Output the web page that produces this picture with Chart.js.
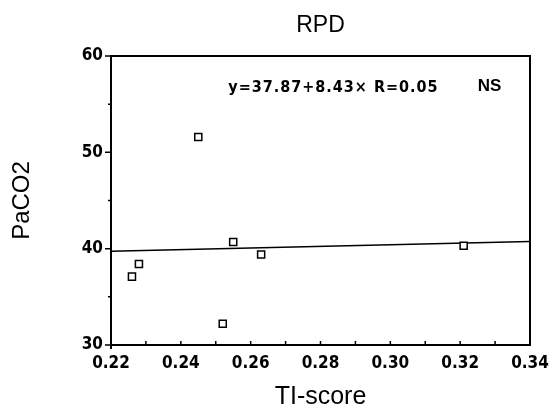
<!DOCTYPE html>
<html>
<head>
<meta charset="utf-8">
<script src="https://cdn.jsdelivr.net/npm/chart.js@4/dist/chart.umd.min.js"></script>
<style>
  html, body { margin: 0; padding: 0; background: #fff; }
  #wrap { width: 557px; height: 412px; }
</style>
</head>
<body>
<div id="wrap"><canvas id="scatter"></canvas></div>
<script>
// RPD group: TI-score vs PaCO2
const tiScore = [0.226, 0.228, 0.245, 0.252, 0.255, 0.263, 0.321];
const paco2   = [37.1, 38.4, 51.6, 32.2, 40.7, 39.4, 40.3];

// regression reported on the plot
const fitIntercept = 37.87;
const fitSlope = 8.43;
const fitR = 0.05;
const fitSignificance = 'NS';

const xRange = [0.22, 0.34];
const yRange = [30, 60];

const fitLine = xRange.map(x => ({ x, y: fitIntercept + fitSlope * x }));
const eqText = `y=${fitIntercept.toFixed(2)}+${fitSlope.toFixed(2)}\u00d7 R=${fitR.toFixed(2)}`;

const tickFont = { family: "'DejaVu Sans Condensed', 'DejaVu Sans'", size: 17, weight: 'bold' };
const titleFamily = "'Liberation Sans', Arial, sans-serif";

// box around the plot, inward x ticks, outward y ticks, and the fit annotation
const framePlugin = {
  id: 'frame',
  afterDraw(chart) {
    const { ctx, chartArea: a, scales } = chart;
    ctx.save();
    ctx.strokeStyle = '#000';
    ctx.lineWidth = 2;
    ctx.beginPath();
    ctx.moveTo(a.left, a.top);
    ctx.lineTo(a.right, a.top);
    ctx.lineTo(a.right, a.bottom + 1);
    ctx.moveTo(a.left, a.top - 1);
    ctx.lineTo(a.left, a.bottom + 4);
    ctx.moveTo(a.left - 1, a.bottom);
    ctx.lineTo(a.right + 1, a.bottom);
    ctx.stroke();

    ctx.lineWidth = 1.5;
    ctx.beginPath();
    scales.x.ticks.forEach(t => {
      const px = scales.x.getPixelForValue(t.value);
      ctx.moveTo(px, a.bottom);
      ctx.lineTo(px, a.bottom - 4);
    });
    scales.y.ticks.forEach(t => {
      const py = scales.y.getPixelForValue(t.value);
      const major = Math.round(t.value) % 10 === 0;
      ctx.moveTo(a.left, py);
      ctx.lineTo(a.left - (major ? 6 : 3), py);
    });
    ctx.stroke();

    ctx.fillStyle = '#000';
    ctx.textBaseline = 'alphabetic';
    ctx.textAlign = 'left';
    ctx.font = "bold 16px 'DejaVu Sans Condensed', 'DejaVu Sans'";
    ctx.letterSpacing = '1px';
    ctx.fillText(eqText, a.left + (a.right - a.left) * 0.28, a.top + 36);
    ctx.letterSpacing = '0px';
    ctx.font = 'bold 17px ' + titleFamily;
    ctx.fillText(fitSignificance, a.left + (a.right - a.left) * 0.875, a.top + 35);
    ctx.restore();
  }
};

new Chart(document.getElementById('scatter'), {
  type: 'scatter',
  data: {
    datasets: [
      {
        label: 'PaCO2',
        data: tiScore.map((x, i) => ({ x, y: paco2[i] })),
        pointStyle: 'rect',
        pointRadius: 5,
        pointBorderWidth: 1.5,
        pointBorderColor: '#000',
        pointBackgroundColor: '#fff'
      },
      {
        label: 'fit',
        type: 'line',
        data: fitLine,
        borderColor: '#000',
        borderWidth: 1.5,
        pointRadius: 0,
        fill: false
      }
    ]
  },
  options: {
    responsive: true,
    maintainAspectRatio: false,
    animation: false,
    devicePixelRatio: 1,
    layout: { padding: { left: 0, right: 27, top: 0, bottom: 0 } },
    plugins: {
      legend: { display: false },
      tooltip: { enabled: false },
      title: {
        display: true,
        text: 'RPD',
        fullSize: false,
        color: '#000',
        font: { family: titleFamily, size: 23, weight: 'normal' },
        padding: { top: 12, bottom: 16.4 }
      }
    },
    scales: {
      x: {
        type: 'linear',
        min: xRange[0],
        max: xRange[1],
        grid: { display: false, drawTicks: false },
        border: { display: false },
        ticks: {
          stepSize: 0.01,
          padding: 8,
          color: '#000',
          font: tickFont,
          maxRotation: 0,
          autoSkip: false,
          callback: v => Math.round(v * 100) % 2 === 0 ? v.toFixed(2) : ''
        },
        title: {
          display: true,
          text: 'TI-score',
          color: '#000',
          font: { family: titleFamily, size: 25 },
          padding: { top: 0, bottom: 0 }
        },
        afterFit(scale) { scale.height = 67; }
      },
      y: {
        type: 'linear',
        min: yRange[0],
        max: yRange[1],
        grid: { display: false, drawTicks: false },
        border: { display: false },
        ticks: {
          stepSize: 5,
          padding: 8,
          color: '#000',
          font: tickFont,
          callback: v => v % 10 === 0 ? String(v) : ''
        },
        title: {
          display: true,
          text: 'PaCO2',
          color: '#000',
          font: { family: titleFamily, size: 24 },
          padding: { top: 8, bottom: 0 }
        },
        afterFit(scale) { scale.width = 111; }
      }
    }
  },
  plugins: [framePlugin]
});
</script>
</body>
</html>
